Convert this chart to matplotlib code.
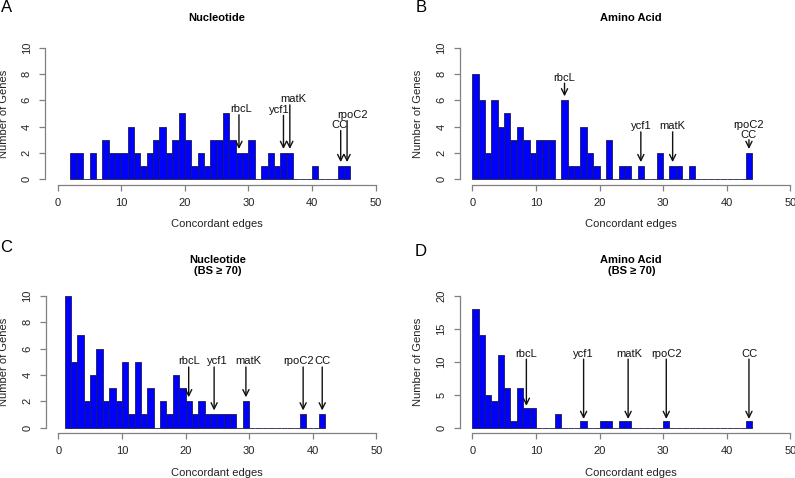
import numpy as np
import matplotlib.pyplot as plt

plt.rcParams['font.family'] = ['Liberation Sans', 'DejaVu Sans']

# histogram counts (bin width 1), first bin left edge
counts_a = [2, 2, 0, 2, 0, 3, 2, 2, 2, 4, 2, 1, 2, 3, 4, 2, 3, 5, 3, 1, 2, 1, 3, 3, 5,
            3, 2, 2, 3, 0, 1, 2, 1, 2, 2, 0, 0, 0, 1, 0, 0, 0, 1, 1]
start_a = 2
counts_b = [8, 6, 2, 6, 4, 5, 3, 4, 3, 2, 3, 3, 3, 0, 6, 1, 1, 4, 2, 1, 0, 3, 0, 1, 1,
            0, 1, 0, 0, 2, 0, 1, 1, 0, 1, 0, 0, 0, 0, 0, 0, 0, 0, 2]
start_b = 0
counts_c = [10, 5, 7, 2, 4, 6, 2, 3, 2, 5, 1, 5, 1, 3, 0, 2, 1, 4, 3, 2, 1, 2, 1, 1, 1,
            1, 1, 0, 2, 0, 0, 0, 0, 0, 0, 0, 0, 1, 0, 0, 1]
start_c = 1
counts_d = [18, 14, 5, 4, 11, 6, 1, 6, 3, 3, 0, 0, 0, 2, 0, 0, 0, 1, 0, 0, 1, 1, 0, 1, 1,
            0, 0, 0, 0, 0, 1, 0, 0, 0, 0, 0, 0, 0, 0, 0, 0, 0, 0, 1]
start_d = 0

# marked genes: name, arrow x, label x, arrow top (data units)
genes_a = ['rbcL', 'ycf1', 'matK', 'CC', 'rpoC2']
gx_a = [28.5, 35.5, 36.5, 44.5, 45.5]
lx_a = [28.8, 34.85, 37.05, 44.3, 46.4]
top_a = [4.9, 4.85, 5.65, 3.7, 4.45]

genes_b = ['rbcL', 'ycf1', 'matK', 'rpoC2\nCC']
gx_b = [14.5, 26.5, 31.5, 43.5]
lx_b = [14.5, 26.5, 31.5, 43.5]
top_b = [7.3, 3.6, 3.6, 3.0]

genes_c = ['rbcL', 'ycf1', 'matK', 'rpoC2', 'CC']
gx_c = [20.5, 24.5, 29.5, 38.5, 41.5]
lx_c = [20.5, 25.0, 29.8, 37.7, 41.5]
top_c = [4.6, 4.6, 4.6, 4.6, 4.6]

genes_d = ['rbcL', 'ycf1', 'matK', 'rpoC2', 'CC']
gx_d = [8.5, 17.5, 24.5, 30.5, 43.5]
lx_d = [8.4, 17.4, 24.7, 30.5, 43.6]
top_d = [10.4, 10.4, 10.4, 10.4, 10.4]

W, H = 795, 478
fig = plt.figure(figsize=(W / 100, H / 100), dpi=100)
FS = 8


def panel(left_px, top_px, ymax, ystep, counts, start, genes, gx, lx, top, title, letter, letter_xy):
    width_px, height_px = 343.4, 142.1
    ax = fig.add_axes([left_px / W, 1 - (top_px + height_px) / H, width_px / W, height_px / H])
    edges = start + np.arange(len(counts))
    ax.bar(edges, counts, width=1, align='edge', color='#0000ff',
           edgecolor='#1c1c50', linewidth=0.6)
    pad = 0.04
    ax.set_xlim(-2, 52)
    ax.set_ylim(-pad * ymax, ymax * (1 + pad))
    for s in ['top', 'right']:
        ax.spines[s].set_visible(False)
    ax.spines['left'].set_bounds(0, ymax)
    ax.spines['bottom'].set_bounds(0, 50)
    for s in ['left', 'bottom']:
        ax.spines[s].set_color('#808080')
        ax.spines[s].set_linewidth(0.9)
    ax.set_xticks(np.arange(0, 51, 10))
    yt = np.arange(0, ymax + 1, ystep)
    ax.set_yticks(yt)
    ax.set_yticklabels([str(int(v)) for v in yt], rotation=90, va='center')
    ax.tick_params(length=4.5, width=0.9, color='#808080', labelsize=FS, labelcolor='#222222', pad=5)
    ax.text(0.5, -0.28, 'Concordant edges', transform=ax.transAxes,
            ha='center', va='center', fontsize=FS, color='#222222')
    ax.text(-0.12, 0.5, 'Number of Genes', transform=ax.transAxes, rotation=90,
            ha='center', va='center', fontsize=FS, color='#222222')

    unit = ymax / 10
    for name, x, tx, t in zip(genes, gx, lx, top):
        c = counts[int(x - start)]
        tip = c + 0.3
        ax.annotate('', xy=(x, tip), xytext=(x, t),
                    arrowprops=dict(arrowstyle='->', color='#111111', lw=1.0,
                                    shrinkA=0, shrinkB=0, mutation_scale=11))
        n = name.count('\n')
        ax.text(tx, t + (0.42 + 0.35 * n) * unit, name, ha='center', va='center',
                fontsize=FS, color='#111111', linespacing=1.0)

    cx = (left_px + width_px / 2) / W
    if '\n' in title:
        l1, l2 = title.split('\n')
        fig.text(cx, 1 - (top_px - 31) / H, l1, ha='center', va='center', fontsize=FS,
                 fontweight='bold')
        fig.text(cx, 1 - (top_px - 20) / H, l2, ha='center', va='center', fontsize=FS,
                 fontweight='bold')
    else:
        fig.text(cx, 1 - (top_px - 24) / H, title, ha='center', va='center', fontsize=FS,
                 fontweight='bold')
    fig.text(letter_xy[0] / W, 1 - letter_xy[1] / H, letter, ha='center', va='center',
             fontsize=12)


panel(45.0, 42.4, 10, 2, counts_a, start_a, genes_a, gx_a, lx_a, top_a,
      'Nucleotide', 'A', (6.5, 8))
panel(459.6, 42.4, 10, 2, counts_b, start_b, genes_b, gx_b, lx_b, top_b,
      'Amino Acid', 'B', (421, 8))
panel(45.6, 290.7, 10, 2, counts_c, start_c, genes_c, gx_c, lx_c, top_c,
      'Nucleotide\n(BS \u2265 70)', 'C', (6.5, 248))
panel(459.6, 290.7, 20, 5, counts_d, start_d, genes_d, gx_d, lx_d, top_d,
      'Amino Acid\n(BS \u2265 70)', 'D', (421, 252))

fig.savefig('out.png', dpi=100)
